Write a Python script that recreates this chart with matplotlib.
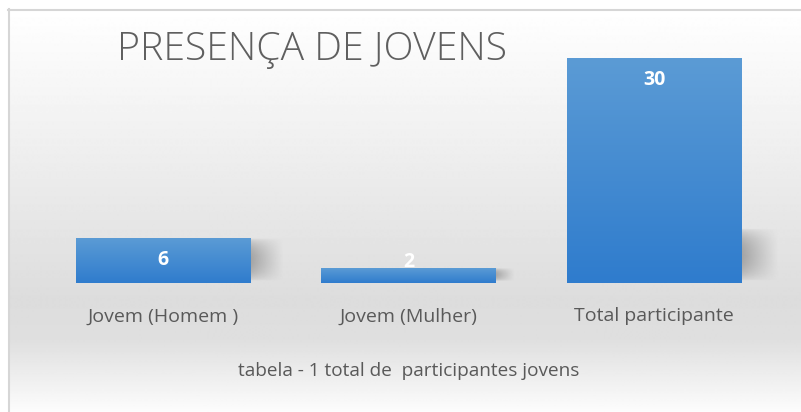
import numpy as np
import matplotlib
matplotlib.use('Agg')
import matplotlib.pyplot as plt
from matplotlib.colors import LinearSegmentedColormap

# Dados do gráfico
categorias = ['Jovem (Homem )', 'Jovem (Mulher)', 'Total participante']
valores = [6, 2, 30]
titulo = 'PRESENÇA DE JOVENS'
legenda = 'tabela - 1 total de  participantes jovens'

W, H = 801, 412
fig = plt.figure(figsize=(W / 100, H / 100), dpi=100)
fig.patch.set_facecolor('white')

# Fundo com gradiente (branco -> cinza -> branco)
bg = fig.add_axes([0, 0, 1, 1])
bg.set_xlim(0, W)
bg.set_ylim(H, 0)
bg.axis('off')
ys = np.arange(9, H + 1)
stops_y = [9, 120, 300, 340, 412]
stops_v = [1.0, 0.95, 0.865, 0.875, 0.99]
grad = np.interp(ys, stops_y, stops_v)[:, None]
bg.imshow(np.repeat(grad, 2, axis=1), cmap='gray', vmin=0, vmax=1,
          extent=[8, W, H, 9], aspect='auto', interpolation='bilinear')
bg.plot([8, W], [9.5, 9.5], color='#d6d6d6', lw=1.5)
bg.plot([8.5, 8.5], [9, H], color='#d6d6d6', lw=1.5)

# Eixo principal
ax = fig.add_axes([40 / W, (H - 283) / H, (777 - 40) / W, (283 - 58) / H])
ax.set_xlim(-0.5, 2.5)
ax.set_ylim(0, 30)
ax.axis('off')

x = np.arange(len(categorias))
bars = ax.bar(x, valores, width=0.71, color='none', edgecolor='none')

cmap_bar = LinearSegmentedColormap.from_list('azul', ['#5b9bd5', '#2f7ccd'])

for bar, v in zip(bars, valores):
    x0 = bar.get_x()
    x1 = x0 + bar.get_width()
    h = bar.get_height()

    # sombra suave à direita
    sh_top = min(h, 7.3)
    ext = 0.05 + 0.0028 * h * 30 / 6 if h < 10 else 0.15
    nx, ny = 40, 60
    gx = np.linspace(0, 1, nx)
    gy = np.linspace(0, 1, ny)
    ax_x = np.clip(1 - gx, 0, 1) ** 1.1
    ax_y = np.sin(np.pi * gy) ** 0.6
    alpha = 0.6 * ax_y[:, None] * ax_x[None, :]
    rgba = np.zeros((ny, nx, 4))
    rgba[..., :3] = 0.45
    rgba[..., 3] = alpha
    ax.imshow(rgba, extent=[x1 - 0.01, x1 + ext, 0.3, sh_top], origin='lower',
              aspect='auto', interpolation='bilinear', zorder=1, clip_on=False)

    # barra com gradiente vertical (claro em cima, escuro embaixo)
    g = np.linspace(0, 1, 100)[:, None]
    ax.imshow(g, cmap=cmap_bar, vmin=0, vmax=1, extent=[x0, x1, 0, h],
              aspect='auto', interpolation='bilinear', zorder=2, clip_on=False)

    # rótulo de valor
    ypos = max(h - 2.9, 2.8)
    ax.text(bar.get_x() + bar.get_width() / 2, ypos, str(v), ha='center', va='center',
            color='white', fontsize=14, fontweight='bold', family='Open Sans', zorder=3)

ax.set_xlim(-0.5, 2.5)
ax.set_ylim(0, 30)

# Rótulos das categorias
for xi, cat in zip(x, categorias):
    ax.text(xi, -4.45, cat, ha='center', va='center', fontsize=14,
            color='#595959', family='Open Sans', clip_on=False)

# Título e legenda
fig.text(117 / W, 1 - 50 / H, titulo, ha='left', va='center', fontsize=28.2,
         color='#5f5f5f', family='Open Sans', fontweight='light')
fig.text(409 / W, 1 - 371 / H, legenda, ha='center', va='center', fontsize=13.7,
         color='#595959', family='Open Sans')

fig.savefig('out.png', dpi=100)
